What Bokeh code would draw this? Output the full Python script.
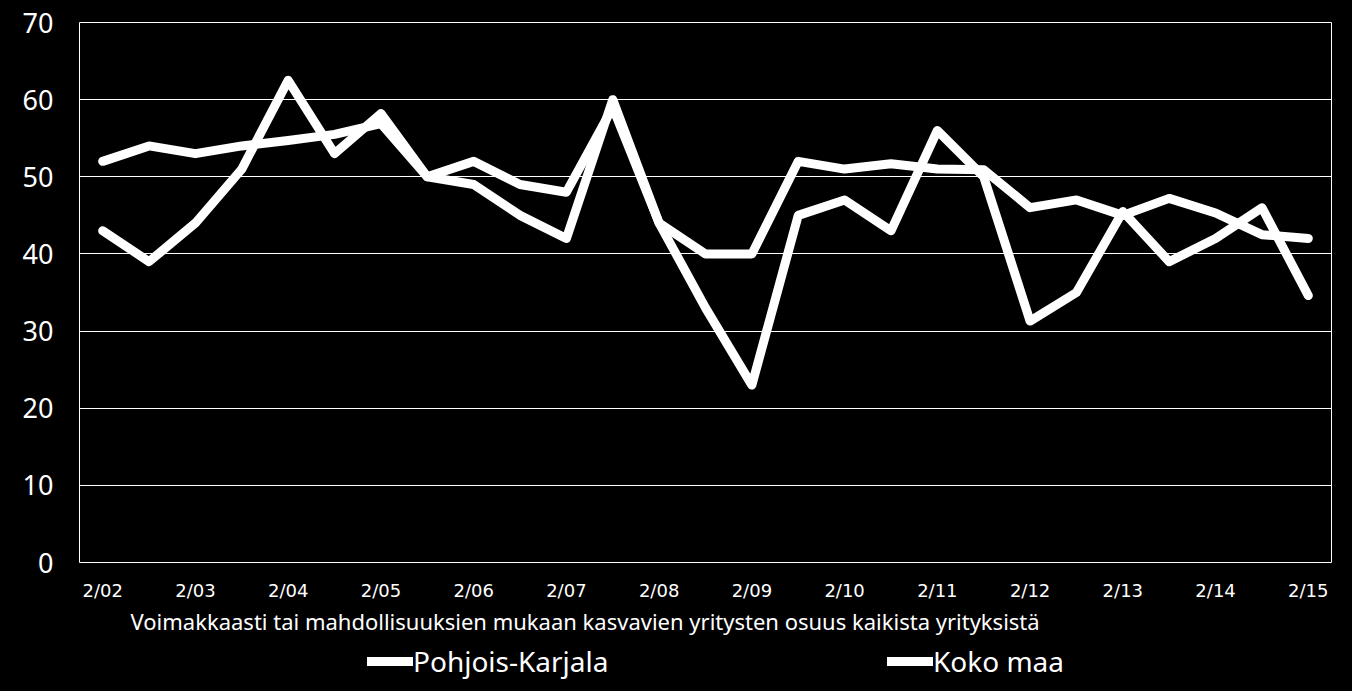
from bokeh.plotting import figure
from bokeh.models import Range1d, FixedTicker, Legend, LegendItem, Title
from bokeh.layouts import column
from bokeh.embed import file_html
from bokeh.resources import INLINE

periods = ["2/02", "8/02", "2/03", "8/03", "2/04", "8/04", "2/05", "8/05", "2/06", "8/06",
           "2/07", "8/07", "2/08", "8/08", "2/09", "8/09", "2/10", "8/10", "2/11", "8/11",
           "2/12", "8/12", "2/13", "8/13", "2/14", "8/14", "2/15"]
tick_labels = ["2/02", "2/03", "2/04", "2/05", "2/06", "2/07", "2/08", "2/09", "2/10",
               "2/11", "2/12", "2/13", "2/14", "2/15"]
pohjois_karjala = [43, 39, 44, 51, 62.5, 53, 58.2, 50, 49, 45, 42, 60, 44, 33, 23, 45, 47, 43,
                   56, 50, 31.3, 35, 45.5, 39, 42, 46, 34.6]
koko_maa = [52, 54, 53, 54, 54.7, 55.5, 56.9, 50, 52, 49, 48, 59, 44, 40, 40, 52, 51, 51.7,
            51, 50.9, 46, 47, 45, 47.2, 45.3, 42.5, 42]
y_ticks = [0, 10, 20, 30, 40, 50, 60, 70]
x_title = "Voimakkaasti tai mahdollisuuksien mukaan kasvavien yritysten osuus kaikista yrityksistä"
series_names = ["Pohjois-Karjala", "Koko maa"]

FONT = "Noto Sans"
TICK_FONT = "DejaVu Sans"

# position of each period along the x axis (one slot per half-year)
x_pos = list(range(len(periods)))
tick_pos = [x_pos[periods.index(lab)] for lab in tick_labels]

p = figure(x_range=Range1d(-0.5, len(periods) - 0.5), y_range=Range1d(0, 70),
           width=1352, height=640, output_backend="svg", toolbar_location=None,
           background_fill_color="black", border_fill_color="black",
           min_border_left=79, min_border_top=22, min_border_right=21, min_border_bottom=78)

r1 = p.line(x_pos, pohjois_karjala, line_color="white", line_width=9,
            line_join="round", line_cap="round")
r2 = p.line(x_pos, koko_maa, line_color="white", line_width=9,
            line_join="round", line_cap="round")

p.outline_line_color = "white"
p.outline_line_width = 1
p.xgrid.grid_line_color = None
p.ygrid.grid_line_color = "white"
p.ygrid.grid_line_width = 1

p.yaxis.ticker = FixedTicker(ticks=y_ticks)
p.yaxis.axis_line_color = None
p.yaxis.major_tick_line_color = None
p.yaxis.minor_tick_line_color = None
p.yaxis.major_tick_out = 0
p.yaxis.major_label_standoff = 26
p.yaxis.major_label_text_color = "white"
p.yaxis.major_label_text_font = FONT
p.yaxis.major_label_text_font_size = "27px"

p.xaxis.ticker = FixedTicker(ticks=tick_pos)
p.xaxis.major_label_overrides = {pos: lab for pos, lab in zip(tick_pos, tick_labels)}
p.xaxis.axis_line_color = None
p.xaxis.major_tick_line_color = None
p.xaxis.minor_tick_line_color = None
p.xaxis.major_tick_out = 0
p.xaxis.major_label_standoff = 17
p.xaxis.major_label_text_color = "white"
p.xaxis.major_label_text_font = TICK_FONT
p.xaxis.major_label_text_font_size = "18px"

t = Title(text=x_title, align="left", offset=51, text_color="white", text_font=FONT,
          text_font_size="22px", text_font_style="normal", standoff=0)
p.add_layout(t, "below")

# legend strip beneath the chart (series drawn out of view; only the legend shows)
p2 = figure(x_range=Range1d(-100, -99), y_range=Range1d(-100, -99), width=1352, height=51,
            output_backend="svg", toolbar_location=None,
            x_axis_location=None, y_axis_location=None,
            background_fill_color="black", border_fill_color="black",
            min_border_left=0, min_border_right=0, min_border_top=0, min_border_bottom=0)
p2.outline_line_color = None
p2.grid.grid_line_color = None
k1 = p2.line(x_pos, pohjois_karjala, line_color="white", line_width=9, line_cap="round")
k2 = p2.line(x_pos, koko_maa, line_color="white", line_width=9, line_cap="round")

for name, rend, xloc in [(series_names[0], k1, 288), (series_names[1], k2, 808)]:
    lg = Legend(items=[LegendItem(label=name, renderers=[rend])],
                location=(xloc, 11), glyph_width=46, glyph_height=30, label_standoff=0,
                padding=0, margin=0, background_fill_alpha=0, border_line_alpha=0,
                label_text_color="white", label_text_font=FONT, label_text_font_size="28px")
    p2.add_layout(lg, "center")

html = file_html(column(p, p2, spacing=0), INLINE)
html = html.replace("<head>", "<head><style>body{background:#000;}</style>", 1)
open("out.html", "w").write(html)
